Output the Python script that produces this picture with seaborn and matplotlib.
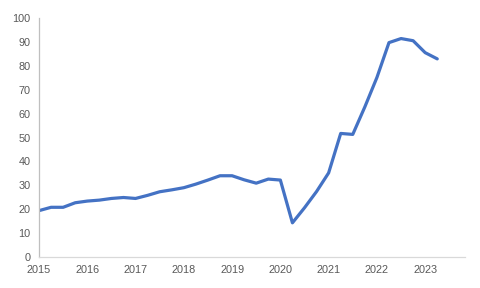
import matplotlib
matplotlib.use("Agg")
import matplotlib.pyplot as plt
import seaborn as sns
import pandas as pd

# Quarterly values, 2015 Q1 .. 2023 Q2
values = [19.4, 20.8, 20.8, 22.7, 23.4, 23.8, 24.5, 24.9,
          24.5, 25.8, 27.3, 28.1, 29.0, 30.5, 32.2, 34.0,
          34.0, 32.3, 30.9, 32.6, 32.2, 14.3, 20.6, 27.4,
          35.2, 51.7, 51.3, 62.8, 75.1, 89.7, 91.4, 90.5,
          85.5, 82.9]
quarter_index = list(range(len(values)))
year_labels = ["2015", "2016", "2017", "2018", "2019", "2020", "2021", "2022", "2023"]
year_ticks = [4 * i for i in range(len(year_labels))]
y_ticks = list(range(0, 101, 10))

df = pd.DataFrame({"q": quarter_index, "v": values})

sns.set_theme(style="white")
plt.rcParams["font.family"] = ["Liberation Sans", "DejaVu Sans"]

fig = plt.figure(figsize=(4.8, 2.88), dpi=100)
ax = fig.add_axes([0.08125, 0.1076, 0.8875, 0.8299])

sns.lineplot(data=df, x="q", y="v", ax=ax, color="#4472C4", linewidth=2.3)

ax.set_xlim(0, 35.3)
ax.set_ylim(0, 100)
ax.set_xticks(year_ticks)
ax.set_xticklabels(year_labels)
ax.set_yticks(y_ticks)
ax.set_xlabel("")
ax.set_ylabel("")

for s in ["top", "right"]:
    ax.spines[s].set_visible(False)
ax.spines["bottom"].set_color("#D9D9D9")
ax.spines["left"].set_color("#BFBFBF")
ax.spines["bottom"].set_linewidth(0.9)
ax.spines["left"].set_linewidth(0.9)
ax.tick_params(axis="x", direction="out", length=3, width=0.9, color="#D9D9D9",
               labelsize=7.8, labelcolor="#595959", pad=3)
ax.tick_params(axis="y", direction="out", length=3, width=0.9, color="#BFBFBF",
               labelsize=7.8, labelcolor="#595959", pad=3)
ax.grid(False)

fig.savefig("out.png", dpi=100)
